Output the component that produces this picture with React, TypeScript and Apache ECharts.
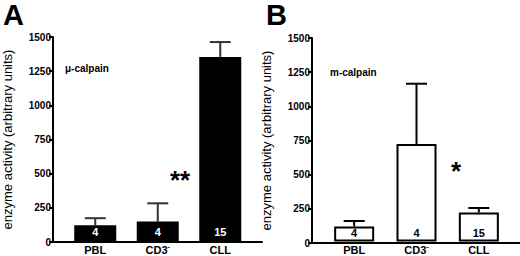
import React, { useEffect, useRef } from "react";
import * as echarts from "echarts";

const categories = ["PBL", "CD3-", "CLL"];
const muMeans = [119, 146, 1354];
const muUpper = [171, 280, 1463];
const muN = ["4", "4", "15"];
const mMeans = [111, 719, 214];
const mUpper = [151, 1163, 247];
const mN = ["4", "4", "15"];
const yTicks = { min: 0, max: 1500, interval: 250 };

const FONT = "Liberation Sans, Arial, sans-serif";

export default function App() {
  const ref = useRef<HTMLDivElement>(null);
  useEffect(() => {
    if (!ref.current) return;
    const chart = echarts.init(ref.current, null, { renderer: "svg" });

    const catLabel = {
      interval: 0,
      fontFamily: FONT,
      fontWeight: "bold",
      fontSize: 11,
      color: "#000",
      margin: 1,
      formatter: (v: string) => (v === "CD3-" ? "{b|CD3}{s|-}" : "{b|" + v + "}"),
      rich: {
        b: { fontFamily: FONT, fontWeight: "bold", fontSize: 11, lineHeight: 14, color: "#000" },
        s: { fontFamily: FONT, fontWeight: "bold", fontSize: 7, lineHeight: 8, color: "#000", padding: [0, 0, 6, 0] },
      },
    };

    const outerY = (gi: number) => ({
      type: "value",
      gridIndex: gi,
      min: yTicks.min,
      max: yTicks.max,
      interval: yTicks.interval,
      name: "enzyme activity (arbitrary units)",
      nameLocation: "middle",
      nameGap: 39,
      nameTextStyle: { fontFamily: FONT, fontSize: 13, color: "#000" },
      axisLine: { show: true, lineStyle: { color: "#000", width: 2 } },
      axisTick: { show: true, length: 4, lineStyle: { color: "#000", width: 2 } },
      axisLabel: {
        fontFamily: FONT,
        fontWeight: "bold",
        fontSize: 10,
        color: "#000",
        margin: 2,
        formatter: (v: number) => String(v),
      },
      splitLine: { show: false },
    });
    const innerY = (gi: number) => ({
      type: "value",
      gridIndex: gi,
      min: yTicks.min,
      max: yTicks.max,
      show: false,
    });
    const outerX = (gi: number) => ({
      type: "value",
      gridIndex: gi,
      min: 0,
      max: 1,
      axisLine: { show: true, onZero: false, lineStyle: { color: "#000", width: 2 } },
      axisTick: { show: false },
      axisLabel: { show: false },
      splitLine: { show: false },
    });
    const innerX = (gi: number) => ({
      type: "category",
      gridIndex: gi,
      data: categories,
      axisLine: { show: false },
      axisTick: { show: false },
      axisLabel: catLabel,
    });

    const errSeries = (xi: number, means: number[], upper: number[], color: string) => ({
      type: "custom",
      xAxisIndex: xi,
      yAxisIndex: xi,
      z: 1,
      data: means.map((m, i) => [i, m, upper[i]]),
      renderItem: (params: any, api: any) => {
        const i = api.value(0);
        const p0 = api.coord([i, api.value(1)]);
        const p1 = api.coord([i, api.value(2)]);
        const hw = 10.5;
        return {
          type: "group",
          children: [
            { type: "line", shape: { x1: p0[0], y1: p0[1], x2: p1[0], y2: p1[1] }, style: { stroke: color, lineWidth: 2 } },
            { type: "line", shape: { x1: p1[0] - hw, y1: p1[1], x2: p1[0] + hw, y2: p1[1] }, style: { stroke: color, lineWidth: 2 } },
          ],
        };
      },
    });

    const option: any = {
      animation: false,
      grid: [
        { left: 53, top: 37, width: 209, height: 205 },
        { left: 64, top: 37, width: 187.5, height: 205 },
        { left: 312, top: 38, width: 208, height: 205 },
        { left: 323, top: 38, width: 187, height: 205 },
      ],
      xAxis: [outerX(0), innerX(1), outerX(2), innerX(3)],
      yAxis: [outerY(0), innerY(1), outerY(2), innerY(3)],
      series: [
        errSeries(1, muMeans, muUpper, "#333"),
        {
          type: "bar",
          xAxisIndex: 1,
          yAxisIndex: 1,
          z: 2,
          barWidth: 42,
          data: muMeans.map((v, i) => ({ value: v, label: { formatter: muN[i] } })),
          itemStyle: { color: "#000" },
          label: {
            show: true,
            position: "insideBottom",
            distance: 4,
            fontFamily: FONT,
            fontWeight: "bold",
            fontSize: 11,
            color: "#fff",
          },
        },
        errSeries(3, mMeans, mUpper, "#000"),
        {
          type: "bar",
          xAxisIndex: 3,
          yAxisIndex: 3,
          z: 2,
          barWidth: 40,
          data: mMeans.map((v, i) => ({ value: v, label: { formatter: mN[i] } })),
          itemStyle: { color: "#fff", borderColor: "#000", borderWidth: 2 },
          label: {
            show: true,
            position: "insideBottom",
            distance: 3,
            fontFamily: FONT,
            fontWeight: "bold",
            fontSize: 11,
            color: "#000",
          },
        },
      ],
      graphic: [
        { type: "text", left: 3, top: 0, style: { text: "A", font: "bold 29px " + FONT, fill: "#000" } },
        { type: "text", left: 266, top: 0, style: { text: "B", font: "bold 29px " + FONT, fill: "#000" } },
        { type: "text", x: 65, y: 68, style: { text: "μ-calpain", font: "bold 10px " + FONT, fill: "#000", verticalAlign: "middle" } },
        { type: "text", x: 330, y: 72, style: { text: "m-calpain", font: "bold 10px " + FONT, fill: "#000", verticalAlign: "middle" } },
        { type: "text", x: 170, y: 167, style: { text: "**", font: "bold 26px " + FONT, fill: "#000" } },
        { type: "text", x: 451, y: 158, style: { text: "*", font: "bold 26px " + FONT, fill: "#000" } },
      ],
    };
    chart.setOption(option);
    return () => chart.dispose();
  }, []);
  return <div ref={ref} style={{ position: "fixed", left: 0, top: 0, width: 520, height: 256, background: "#fff" }} />;
}
